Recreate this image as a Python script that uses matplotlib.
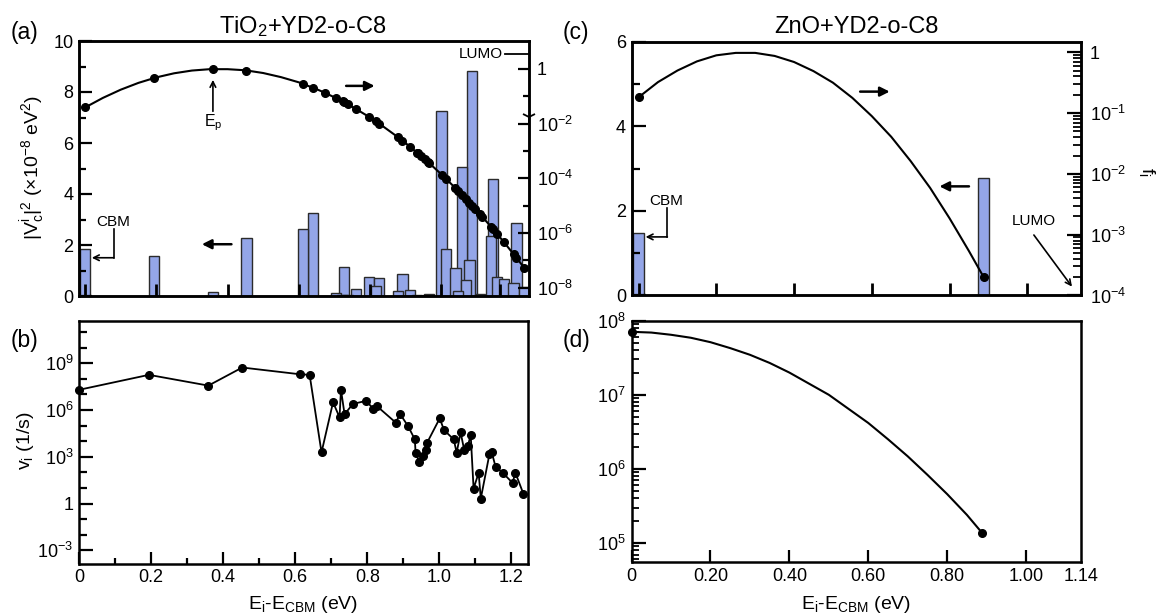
import numpy as np
import matplotlib
matplotlib.use('agg')
import matplotlib.pyplot as plt
from matplotlib.ticker import FixedLocator, FuncFormatter, NullFormatter, LogLocator

plt.rcParams['font.family'] = ['Liberation Sans', 'DejaVu Sans']
plt.rcParams['mathtext.fontset'] = 'custom'
plt.rcParams['mathtext.rm'] = 'Liberation Sans'
plt.rcParams['mathtext.it'] = 'Liberation Sans'
plt.rcParams['mathtext.bf'] = 'Liberation Sans:bold'
plt.rcParams.update({
    'xtick.direction': 'in', 'ytick.direction': 'in',
    'xtick.major.width': 1.6, 'ytick.major.width': 1.6,
    'xtick.minor.width': 1.6, 'ytick.minor.width': 1.6,
    'xtick.labelsize': 13, 'ytick.labelsize': 13,
    'axes.linewidth': 1.8,
})

# TiO2 + YD2-o-C8: acceptor states above the CBM (eV)
tio2_e = [0.0, 0.194, 0.359, 0.453, 0.612, 0.640, 0.673, 0.705, 0.723, 0.727,
          0.737, 0.760, 0.797, 0.816, 0.826, 0.879, 0.891, 0.913, 0.932, 0.934,
          0.944, 0.955, 0.963, 0.966, 1.001, 1.013, 1.040, 1.048, 1.059, 1.069,
          1.079, 1.087, 1.095, 1.109, 1.115, 1.139, 1.145, 1.156, 1.176, 1.203,
          1.211, 1.233]
# coupling |V_c^i|^2 in units of 1e-8 eV^2
tio2_coupling = [1.83, 1.58, 0.14, 2.26, 2.61, 3.27, 0.001, 0.13, 0.02, 1.15,
                 0.04, 0.29, 0.73, 0.39, 0.71, 0.21, 0.86, 0.24, 0.05, 0.01,
                 0.005, 0.01, 0.03, 0.08, 7.27, 1.84, 1.09, 0.21, 5.07, 0.63,
                 1.41, 8.84, 0.005, 0.07, 0.005, 2.37, 4.60, 0.76, 0.67, 0.50,
                 2.85, 0.37]
# log10 of the weighting f_i at each state
tio2_log_f = [-1.41, -0.33, 0.00, -0.06, -0.55, -0.69, -0.87, -1.07, -1.19, -1.22,
              -1.29, -1.46, -1.75, -1.91, -2.00, -2.50, -2.62, -2.85, -3.06, -3.08,
              -3.19, -3.31, -3.41, -3.44, -3.86, -4.01, -4.36, -4.47, -4.61, -4.75,
              -4.89, -5.00, -5.11, -5.31, -5.40, -5.76, -5.85, -6.02, -6.33, -6.77,
              -6.90, -7.27]
# log10 of the injection rate v_i (1/s)
tio2_log_rate = [7.29, 8.25, 7.56, 8.72, 8.29, 8.25, 3.28, 6.49, 5.53, 7.29,
                 5.72, 6.39, 6.58, 6.09, 6.26, 5.19, 5.74, 4.97, 4.11, 3.26,
                 2.68, 3.04, 3.43, 3.90, 5.46, 4.71, 4.11, 3.26, 4.56, 3.43,
                 3.69, 4.39, 0.96, 1.97, 0.32, 3.17, 3.32, 2.36, 1.97, 1.33,
                 1.97, 0.64]
# f_i curve through the sparse low-energy region
tio2_curve_e = [0.0, 0.05, 0.10, 0.15, 0.20, 0.25, 0.30, 0.35, 0.40, 0.45,
                0.50, 0.55, 0.60, 0.65]
tio2_curve_log_f = [-1.41, -1.06, -0.76, -0.51, -0.31, -0.16, -0.06, -0.01, -0.01, -0.05,
                    -0.15, -0.30, -0.49, -0.74]

# ZnO + YD2-o-C8
zno_e = [0.0, 0.888]
zno_coupling = [1.48, 2.78]
zno_log_f = [-0.74, -3.70]
zno_log_rate = [7.85, 5.14]
zno_curve_e = [0.0, 0.05, 0.10, 0.15, 0.20, 0.25, 0.30, 0.35, 0.40, 0.45,
               0.50, 0.55, 0.60, 0.65, 0.70, 0.75, 0.80, 0.85, 0.888]
zno_curve_log_f = [-0.74, -0.49, -0.30, -0.15, -0.05, -0.01, -0.01, -0.06, -0.16, -0.31,
                   -0.50, -0.75, -1.05, -1.39, -1.79, -2.23, -2.73, -3.27, -3.70]
zno_curve_log_rate = [7.85, 7.84, 7.81, 7.77, 7.71, 7.63, 7.54, 7.43, 7.30, 7.15,
                      7.00, 6.81, 6.62, 6.40, 6.17, 5.92, 5.66, 5.38, 5.14]

BAR_BLUE = '#94a6e8'
BAR_EDGE = '#2b2b2b'

W, H = 1158, 616
fig = plt.figure(figsize=(W / 100, H / 100), dpi=100)


def add_axes(left, top, right, bottom):
    return fig.add_axes([left / W, 1 - bottom / H, (right - left) / W, (bottom - top) / H])


def ftext(x, y, s, **kw):
    fig.text(x / W, 1 - y / H, s, **kw)


def log_label(v, pos):
    k = int(round(np.log10(v)))
    return '1' if k == 0 else rf'10$^{{{k}}}$'


def arrow(ax, start, end, style='-|>', lw=1.8, ms=14):
    ax.annotate('', xy=end, xytext=start,
                arrowprops=dict(arrowstyle=style, lw=lw, color='k',
                                mutation_scale=ms, shrinkA=0, shrinkB=0))


ax_a = add_axes(79, 41, 528.5, 296)
ax_b = add_axes(79, 320.7, 528, 563.5)
ax_c = add_axes(631.6, 41.7, 1081.3, 295.5)
ax_d = add_axes(631.6, 320.7, 1081.3, 562.3)

# (a) couplings (left) and f_i (right)
order = np.argsort(tio2_coupling)[::-1]
ax_a.bar(np.array(tio2_e)[order], np.array(tio2_coupling)[order], width=0.029,
         color=BAR_BLUE, edgecolor=BAR_EDGE, linewidth=1.0)
ax_a.set_xlim(-0.017, 1.245)
ax_a.set_ylim(0, 10)
ax_a.yaxis.set_major_locator(FixedLocator([0, 2, 4, 6, 8, 10]))
ax_a.yaxis.set_minor_locator(FixedLocator([1, 3, 5, 7, 9]))
ax_a.tick_params(axis='y', which='major', length=9, pad=4)
ax_a.tick_params(axis='y', which='minor', length=5)
ax_a.set_xticks([0, 0.2, 0.4, 0.6, 0.8, 1.0, 1.165])
ax_a.tick_params(axis='x', length=9, width=2, labelbottom=False)

ax_a2 = ax_a.twinx()
ax_a2.set_yscale('log')
ax_a2.set_ylim(10 ** -8.3, 10 ** 1.02)
line_pts = sorted(zip(tio2_curve_e + [e for e in tio2_e if e > tio2_curve_e[-1]],
                      tio2_curve_log_f + [f for e, f in zip(tio2_e, tio2_log_f) if e > tio2_curve_e[-1]]))
line_e, line_f = zip(*line_pts)
ax_a2.plot(line_e, 10 ** np.array(line_f), color='k', lw=1.5)
ax_a2.plot(tio2_e, 10 ** np.array(tio2_log_f), 'o', color='k', ms=5.5)
ax_a2.yaxis.set_major_locator(FixedLocator([1e-8, 1e-6, 1e-4, 1e-2, 1]))
ax_a2.yaxis.set_minor_locator(FixedLocator([1e-7, 1e-5, 1e-3, 1e-1]))
ax_a2.yaxis.set_major_formatter(FuncFormatter(log_label))
ax_a2.yaxis.set_minor_formatter(NullFormatter())
ax_a2.tick_params(axis='y', which='major', length=8, pad=6)
ax_a2.tick_params(axis='y', which='minor', length=4.5)
for s in ax_a2.spines.values():
    s.set_linewidth(1.8)

# LUMO level marker on the right axis
ax_a2.plot([1.178, 1.245], [10 ** 0.54, 10 ** 0.54], color='k', lw=1.3, clip_on=False)
ax_a2.text(1.172, 10 ** 0.54, 'LUMO', ha='right', va='center', fontsize=11)
ax_a2.plot([1.245], [10 ** -1.76], marker='1', ms=10, mew=1.3, color='k', clip_on=False)

# E_p marker at the f_i maximum
arrow(ax_a2, (0.359, 10 ** -1.55), (0.359, 10 ** -0.40), style='->', lw=1.2, ms=10)
ax_a2.text(0.359, 10 ** -1.58, 'E$_p$', ha='center', va='top', fontsize=11.5)

# CBM pointer and axis arrows
ax_a.text(0.078, 2.89, 'CBM', ha='center', va='center', fontsize=11)
ax_a.plot([0.080, 0.080], [2.63, 1.50], color='k', lw=1.2)
arrow(ax_a, (0.080, 1.50), (0.019, 1.50), style='->', lw=1.2, ms=10)
arrow(ax_a, (0.733, 8.24), (0.813, 8.24))
arrow(ax_a, (0.411, 2.03), (0.328, 2.03))

# (b) injection rates
ax_b.set_yscale('log')
ax_b.plot(tio2_e, 10 ** np.array(tio2_log_rate), '-o', color='k', lw=1.3, ms=5.5, clip_on=False)
ax_b.set_xlim(0, 1.246)
ax_b.set_ylim(10 ** -3.84, 10 ** 11.72)
ax_b.yaxis.set_major_locator(FixedLocator([1e-3, 1, 1e3, 1e6, 1e9]))
ax_b.yaxis.set_minor_locator(FixedLocator([10.0 ** k for k in range(-3, 12)]))
ax_b.yaxis.set_major_formatter(FuncFormatter(log_label))
ax_b.yaxis.set_minor_formatter(NullFormatter())
ax_b.tick_params(axis='y', which='major', length=10, pad=4)
ax_b.tick_params(axis='y', which='minor', length=6)
ax_b.xaxis.set_major_locator(FixedLocator([0, 0.2, 0.4, 0.6, 0.8, 1.0, 1.2]))
ax_b.xaxis.set_minor_locator(FixedLocator([0.1, 0.3, 0.5, 0.7, 0.9, 1.1]))
ax_b.xaxis.set_major_formatter(FuncFormatter(lambda v, p: '0' if v == 0 else f'{v:.1f}'))
ax_b.tick_params(axis='x', which='major', length=9, pad=4)
ax_b.tick_params(axis='x', which='minor', length=4.5)

# (c) ZnO couplings and f_i
ax_c.bar(zno_e, zno_coupling, width=0.027, color=BAR_BLUE, edgecolor=BAR_EDGE, linewidth=1.0)
ax_c.set_xlim(-0.018, 1.139)
ax_c.set_ylim(0, 6)
ax_c.yaxis.set_major_locator(FixedLocator([0, 2, 4, 6]))
ax_c.yaxis.set_minor_locator(FixedLocator([1, 3, 5]))
ax_c.tick_params(axis='y', which='major', length=10, pad=4)
ax_c.tick_params(axis='y', which='minor', length=5.5)
ax_c.set_xticks([0, 0.2, 0.4, 0.6, 0.8, 1.0])
ax_c.tick_params(axis='x', length=9, width=2, labelbottom=False)

ax_c2 = ax_c.twinx()
ax_c2.set_yscale('log')
ax_c2.set_ylim(1e-4, 10 ** 0.174)
ax_c2.plot(zno_curve_e, 10 ** np.array(zno_curve_log_f), color='k', lw=1.5)
ax_c2.plot(zno_e, 10 ** np.array(zno_log_f), 'o', color='k', ms=5.5)
ax_c2.yaxis.set_major_locator(FixedLocator([1e-4, 1e-3, 1e-2, 1e-1, 1]))
ax_c2.yaxis.set_minor_locator(LogLocator(base=10, subs=np.arange(2, 10)))
ax_c2.yaxis.set_major_formatter(FuncFormatter(log_label))
ax_c2.yaxis.set_minor_formatter(NullFormatter())
ax_c2.tick_params(axis='y', which='major', length=10, pad=6)
ax_c2.tick_params(axis='y', which='minor', length=5.5, width=1.3)
for s in ax_c2.spines.values():
    s.set_linewidth(1.8)

ax_c.text(0.072, 2.24, 'CBM', ha='center', va='center', fontsize=11)
ax_c.plot([0.074, 0.074], [2.07, 1.385], color='k', lw=1.2)
arrow(ax_c, (0.074, 1.385), (0.018, 1.385), style='->', lw=1.2, ms=10)
arrow(ax_c, (0.570, 4.82), (0.646, 4.82))
arrow(ax_c, (0.850, 2.58), (0.774, 2.58))
ax_c.text(1.016, 1.60, 'LUMO', ha='center', va='bottom', fontsize=11)
arrow(ax_c, (1.017, 1.43), (1.115, 0.21), style='->', lw=1.2, ms=10)

# (d) ZnO injection rate
ax_d.set_yscale('log')
ax_d.plot(zno_curve_e, 10 ** np.array(zno_curve_log_rate), color='k', lw=1.5)
ax_d.plot(zno_e, 10 ** np.array(zno_log_rate), 'o', color='k', ms=5.5, clip_on=False)
ax_d.set_xlim(0, 1.14)
ax_d.set_ylim(10 ** 4.74, 1e8)
ax_d.yaxis.set_major_locator(FixedLocator([1e5, 1e6, 1e7, 1e8]))
ax_d.yaxis.set_minor_locator(LogLocator(base=10, subs=np.arange(2, 10)))
ax_d.yaxis.set_major_formatter(FuncFormatter(log_label))
ax_d.yaxis.set_minor_formatter(NullFormatter())
ax_d.tick_params(axis='y', which='major', length=10, pad=4)
ax_d.tick_params(axis='y', which='minor', length=5, width=1.3)
ax_d.set_xticks([0, 0.2, 0.4, 0.6, 0.8, 1.0, 1.14])
ax_d.set_xticklabels(['0', '0.20', '0.40', '0.60', '0.80', '1.00', '1.14'])
ax_d.tick_params(axis='x', length=9, pad=4)
ax_d.xaxis.get_major_ticks()[-1].tick1line.set_visible(False)

# titles, panel letters, axis labels
ftext(303, 33, 'TiO$_2$+YD2-o-C8', ha='center', va='baseline', fontsize=17)
ftext(856, 33, 'ZnO+YD2-o-C8', ha='center', va='baseline', fontsize=17)
ftext(25, 32, '(a)', ha='center', va='center', fontsize=16.5)
ftext(25, 340, '(b)', ha='center', va='center', fontsize=16.5)
ftext(576, 32, '(c)', ha='center', va='center', fontsize=16.5)
ftext(576, 341, '(d)', ha='center', va='center', fontsize=16.5)
ftext(33, 168, r'|V$_c^i$|$^2$ (×10$^{-8}$ eV$^2$)', ha='center', va='center',
      rotation=90, fontsize=14)
ftext(25, 441, r'v$_i$ (1/s)', ha='center', va='center', rotation=90, fontsize=14)
ftext(1147, 172, r'f$_i$', ha='center', va='center', rotation=270, fontsize=14)
ftext(303, 609, r'E$_i$-E$_{CBM}$ (eV)', ha='center', va='baseline', fontsize=14)
ftext(856, 609, r'E$_i$-E$_{CBM}$ (eV)', ha='center', va='baseline', fontsize=14)

fig.savefig('out.png', dpi=100)
